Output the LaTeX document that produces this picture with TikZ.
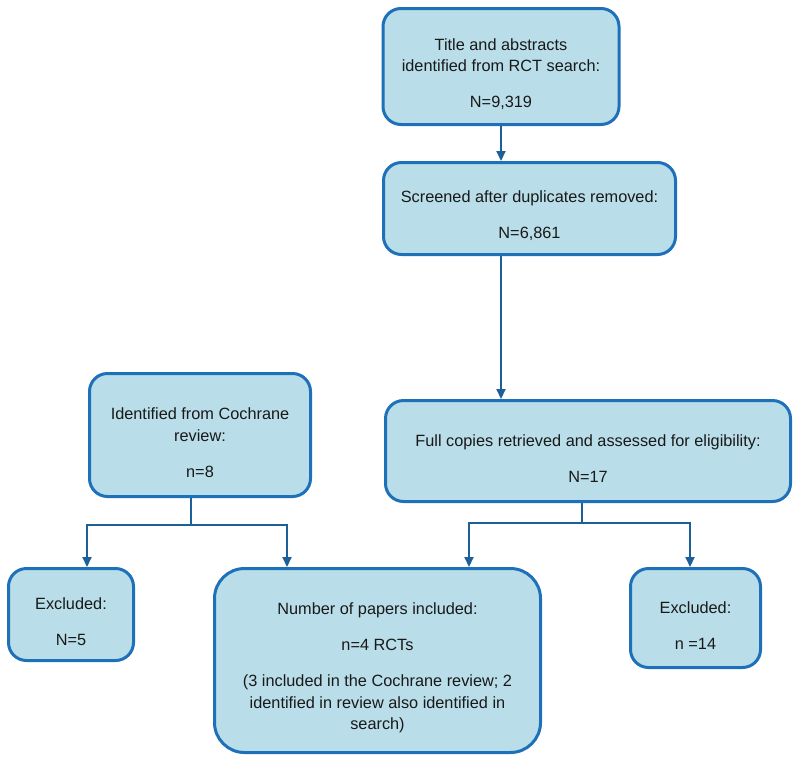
\documentclass[tikz,border=0pt]{standalone}
\usepackage{fontspec}
\setmainfont{Liberation Sans}
\usetikzlibrary{arrows.meta}

\definecolor{boxfill}{HTML}{B9DEE9}
\definecolor{boxline}{HTML}{1E70B8}
\definecolor{linkblue}{HTML}{1D5F98}
\newcommand\padtop{\rule{0pt}{27pt}}

\begin{document}
\begin{tikzpicture}[
  x = 1pt, y = -1pt,
  every node/.style = {font=\fontsize{16.3}{21.5}\selectfont, text=black!90,
                       align=center, inner sep=0pt},
  stage/.style = {draw=boxline, fill=boxfill, line width=3pt, rounded corners=18pt},
  link/.style = {draw=linkblue, line width=2pt},
  arr/.style = {link, -{Triangle[length=10pt,width=9pt]}},
]
\useasboundingbox (0,0) rectangle (800,764);

\node[stage, minimum width=236pt, minimum height=116pt] (title) at (501, 66.5)
  {\padtop Title and abstracts\\identified from RCT search:\\[14.5pt]N=9,319};
\node[stage, minimum width=292pt, minimum height=92pt] (screen) at (529.5, 208.5)
  {\padtop Screened after duplicates removed:\\[14.5pt]N=6,861};
\node[stage, minimum width=221pt, minimum height=123pt] (cochrane) at (200, 435)
  {\padtop Identified from Cochrane\\review:\\[14.5pt]n=8};
\node[stage, minimum width=405pt, minimum height=101pt] (full) at (588, 451)
  {\padtop Full copies retrieved and assessed for eligibility:\\[14.5pt]N=17};
\node[stage, minimum width=125pt, minimum height=92pt] (exl) at (71, 614.5)
  {\padtop Excluded:\\[14.5pt]N=5};
\node[stage, minimum width=326pt, minimum height=184pt, rounded corners=30pt] (incl) at (377.5, 660.5)
  {\padtop Number of papers included:\\[14.5pt]n=4 RCTs\\[14.5pt](3 included in the Cochrane review; 2\\identified in review also identified in\\search)};
\node[stage, minimum width=130pt, minimum height=99pt] (exr) at (695.5, 618)
  {\padtop Excluded:\\[14.5pt]n =14};

\coordinate (cj) at (191, 525);
\coordinate (cl) at (87, 525);
\coordinate (cr) at (287, 525);
\coordinate (fj) at (582, 523);
\coordinate (fl) at (469, 523);
\coordinate (fr) at (690, 523);

\draw[arr] (title) -- (screen.north -| title);
\draw[arr] (screen.south -| title) -- (full.north -| title);
\draw[link] (cochrane.south -| cj) -- (cj);
\draw[link] (full.south -| fj) -- (fj);

\foreach \j/\c/\n in {cj/cl/exl, cj/cr/incl, fj/fl/incl, fj/fr/exr}
  \draw[arr] (\j) -| (\n.north -| \c);

\end{tikzpicture}
\end{document}
